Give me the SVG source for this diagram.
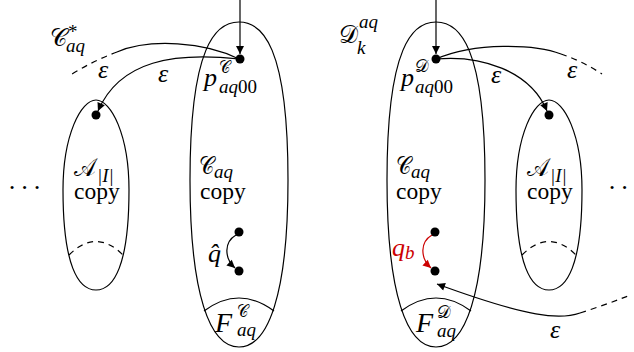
<svg xmlns="http://www.w3.org/2000/svg" width="634" height="352" viewBox="0 0 634 352">
<defs>
<marker id="ah" viewBox="0 0 10 10" refX="10" refY="5" markerWidth="9" markerHeight="8" markerUnits="userSpaceOnUse" orient="auto"><path d="M0,0 L10,5 L0,10 Z" fill="#000"/></marker>
<marker id="ahr" viewBox="0 0 10 10" refX="10" refY="5" markerWidth="9" markerHeight="8" markerUnits="userSpaceOnUse" orient="auto"><path d="M0,0 L10,5 L0,10 Z" fill="#cc0000"/></marker>
</defs>
<style>
.sh{fill:none;stroke:#000;stroke-width:1.2}
.ln{fill:none;stroke:#000;stroke-width:1.2}
.ds{fill:none;stroke:#000;stroke-width:1.2;stroke-dasharray:6 5}
.dot{fill:#000}
text{font-family:"Liberation Serif","DejaVu Serif",serif;fill:#000}
.m{font-style:italic;font-size:26px}
.s{font-style:italic;font-size:19px}
.r{font-style:normal}
.cp{font-size:23.5px}
.cal{font-family:"DejaVu Serif","Liberation Serif",serif;font-style:normal}
.cm{font-size:25px}
.cs{font-size:17px}
.f{font-style:italic;font-size:28px}
.red{fill:#cc0000}
</style>

<g id="connectors">
<path class="ln" d="M240,0 L240,54" marker-end="url(#ah)"/>
<path class="ln" d="M436,0 L436,54" marker-end="url(#ah)"/>
<path class="ln" d="M239,59 C205,42 150,38 117,52"/>
<path class="ds" d="M117,52 Q95,60 72,74"/>
<path class="ln" d="M239,59 C175,52 120,60 98,111" marker-end="url(#ah)"/>
<path class="ln" d="M436,59 C475,42 535,44 561,54"/>
<path class="ds" d="M561,54 Q582,61 602,74"/>
<path class="ln" d="M436,59 C480,55 530,70 547,111" marker-end="url(#ah)"/>
<path class="ln" d="M236,235 C224,242 224,258 235,268" marker-end="url(#ah)"/>
<path d="M432,235 C420,242 420,258 431,268" fill="none" stroke="#cc0000" stroke-width="1.2" marker-end="url(#ahr)"/>
<path class="ln" d="M580,313 C560,320 530,318 437,284" marker-end="url(#ah)"/>
<path class="ds" d="M580,313 Q605,305 628,296"/>
<text class="m" x="103" y="78" text-anchor="middle">ε</text>
<text class="m" x="163" y="82" text-anchor="middle">ε</text>
<text class="m" x="496" y="83" text-anchor="middle">ε</text>
<text class="m" x="572" y="78" text-anchor="middle">ε</text>
<text class="m" x="555" y="338" text-anchor="middle">ε</text>
<text class="m" x="208" y="262">q̂</text>
<text class="m red" x="392" y="256">q</text>
<text class="s red" x="405" y="259">b</text>
</g>

<g id="label-Cstar">
<text class="cal cm" x="50" y="46" textLength="17" lengthAdjust="spacingAndGlyphs">𝒞</text>
<text class="s r" x="68" y="38">*</text>
<text class="s" x="66" y="52">aq</text>
</g>

<g id="label-Dk">
<text class="cal cm" x="339" y="43" textLength="19" lengthAdjust="spacingAndGlyphs">𝒟</text>
<text class="s" x="359" y="28">aq</text>
<text class="s" x="357" y="54">k</text>
</g>

<g id="dots-left"><text class="m r" x="12 24.5 37" y="196" text-anchor="middle">···</text></g>
<g id="dots-right"><text class="m r" x="612 624.5" y="196" text-anchor="middle">··</text></g>

<g id="A-copy-left">
<path class="sh" d="M96,100 C111,100 129,135 129,190 C129,265 114,290 96,290 C78,290 63,265 63,190 C63,135 81,100 96,100 Z"/>
<path class="ds" d="M69,255 Q96,228 123,255"/>
<circle class="dot" cx="96" cy="115" r="4.5"/>
<text class="cal cm" x="74" y="176" textLength="22" lengthAdjust="spacingAndGlyphs">𝒜</text>
<text class="s" x="97" y="182">|I|</text>
<text class="cp" x="74" y="199">copy</text>
</g>

<g id="C-copy-left">
<path class="sh" d="M239,22 C262,22 288,45 288,180 C288,295 268,347 239,347 C210,347 190,295 190,180 C190,45 216,22 239,22 Z"/>
<path class="sh" d="M204,311 Q239,285 274,311"/>
<circle class="dot" cx="240" cy="59" r="4.5"/>
<circle class="dot" cx="239" cy="232" r="4.5"/>
<circle class="dot" cx="239" cy="271" r="4.5"/>
<text class="m" x="204" y="86">p</text>
<text class="cal cs" x="219" y="73" textLength="11" lengthAdjust="spacingAndGlyphs">𝒞</text>
<text class="s" x="219" y="93">aq<tspan class="r">00</tspan></text>
<text class="cal cm" x="199" y="174" textLength="15" lengthAdjust="spacingAndGlyphs">𝒞</text>
<text class="s" x="214" y="178">aq</text>
<text class="cp" x="200" y="199">copy</text>
<text class="f" x="215" y="332">F</text>
<text class="cal cs" x="237" y="317" textLength="11" lengthAdjust="spacingAndGlyphs">𝒞</text>
<text class="s" x="237" y="336">aq</text>
</g>

<g id="C-copy-right">
<path class="sh" d="M436,22 C459,22 485,45 485,180 C485,295 465,347 436,347 C407,347 387,295 387,180 C387,45 413,22 436,22 Z"/>
<path class="sh" d="M401,311 Q436,285 471,311"/>
<circle class="dot" cx="436" cy="59" r="4.5"/>
<circle class="dot" cx="435" cy="232" r="4.5"/>
<circle class="dot" cx="435" cy="271" r="4.5"/>
<text class="m" x="401" y="86">p</text>
<text class="cal cs" x="415" y="72" textLength="14" lengthAdjust="spacingAndGlyphs">𝒟</text>
<text class="s" x="415" y="93">aq<tspan class="r">00</tspan></text>
<text class="cal cm" x="396" y="174" textLength="15" lengthAdjust="spacingAndGlyphs">𝒞</text>
<text class="s" x="411" y="178">aq</text>
<text class="cp" x="396" y="199">copy</text>
<text class="f" x="416" y="332">F</text>
<text class="cal cs" x="437" y="318" textLength="14" lengthAdjust="spacingAndGlyphs">𝒟</text>
<text class="s" x="437" y="337">aq</text>
</g>

<g id="A-copy-right">
<path class="sh" d="M549,100 C564,100 582,135 582,190 C582,265 567,290 549,290 C531,290 516,265 516,190 C516,135 534,100 549,100 Z"/>
<path class="ds" d="M522,255 Q549,228 576,255"/>
<circle class="dot" cx="549" cy="115" r="4.5"/>
<text class="cal cm" x="527" y="176" textLength="22" lengthAdjust="spacingAndGlyphs">𝒜</text>
<text class="s" x="550" y="182">|I|</text>
<text class="cp" x="527" y="199">copy</text>
</g>
</svg>
